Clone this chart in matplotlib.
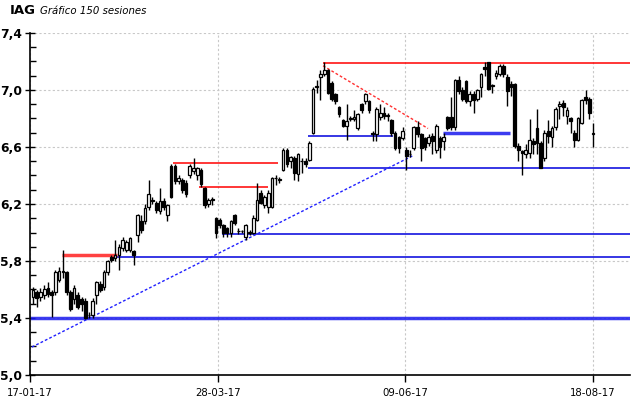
import matplotlib
matplotlib.use("Agg")
import matplotlib.pyplot as plt
from matplotlib.ticker import FixedLocator, MultipleLocator, FuncFormatter
import numpy as np

# ---- data (OHLC) ----
opens = [5.55,5.58,5.55,5.56,5.61,5.58,5.58,5.67,5.73,5.72,
         5.58,5.53,5.56,5.53,5.52,5.42,5.42,5.56,5.64,5.62,
         5.72,5.83,5.82,5.84,5.89,5.88,5.88,5.87,5.98,6.08,
         6.08,6.18,6.23,6.21,6.15,6.22,6.12,6.47,6.47,6.36,
         6.37,6.35,6.40,6.43,6.40,6.44,6.31,6.20,6.23,6.10,
         6.09,6.05,6.03,6.00,6.12,6.01,6.01,5.97,6.00,6.00,
         6.09,6.28,6.19,6.18,6.18,6.38,6.37,6.44,6.58,6.50,
         6.52,6.41,6.50,6.50,6.51,6.70,7.02,7.09,7.11,7.14,
         7.05,6.97,6.88,6.79,6.75,6.80,6.80,6.73,6.90,6.92,
         6.92,6.70,6.69,6.81,6.84,6.82,6.79,6.70,6.67,6.66,
         6.58,6.55,6.59,6.74,6.69,6.66,6.63,6.68,6.58,6.66,
         6.64,6.81,6.81,6.74,7.07,7.00,7.06,6.92,6.97,6.94,
         7.02,7.16,7.20,7.03,7.10,7.11,7.17,7.09,7.04,7.04,
         6.61,6.57,6.55,6.56,6.64,6.73,6.63,6.52,6.71,6.67,
         6.74,6.89,6.91,6.82,6.80,6.70,6.65,6.77,6.95,6.94,
         6.70]
highs = [5.62,5.60,5.61,5.63,5.65,5.60,5.74,5.76,5.88,5.73,
         5.60,5.63,5.58,5.55,5.54,5.44,5.54,5.66,5.66,5.74,
         5.81,5.84,5.95,5.92,5.97,5.95,5.97,5.88,6.13,6.12,
         6.20,6.37,6.25,6.22,6.31,6.24,6.20,6.48,6.48,6.40,
         6.38,6.37,6.48,6.52,6.46,6.45,6.32,6.24,6.25,6.11,
         6.10,6.06,6.04,6.09,6.13,6.03,6.02,6.06,6.02,6.12,
         6.35,6.30,6.26,6.30,6.39,6.40,6.39,6.59,6.59,6.54,
         6.54,6.56,6.52,6.52,6.64,7.02,7.07,7.14,7.20,7.15,
         7.06,6.98,6.89,6.80,6.90,6.82,6.86,6.84,6.91,6.98,
         6.93,6.71,6.88,6.90,6.88,6.84,6.80,6.71,6.68,6.74,
         6.60,6.58,6.75,6.78,6.70,6.67,6.69,6.70,6.76,6.68,
         6.70,6.82,6.95,7.08,7.10,7.02,7.07,6.99,6.99,7.01,
         7.12,7.20,7.20,7.04,7.14,7.18,7.18,7.11,7.06,7.05,
         6.63,6.58,6.62,6.80,6.66,6.87,6.64,6.72,6.79,6.75,
         6.88,6.92,6.93,6.88,6.81,6.72,6.81,6.94,7.00,6.95,
         6.77]
lows = [5.50,5.48,5.52,5.53,5.55,5.41,5.56,5.65,5.68,5.56,
        5.45,5.50,5.46,5.45,5.39,5.40,5.40,5.50,5.58,5.60,
        5.70,5.79,5.80,5.74,5.87,5.86,5.86,5.77,5.93,6.00,
        6.06,6.16,6.20,6.14,6.13,6.16,6.08,6.24,6.34,6.34,
        6.28,6.25,6.38,6.41,6.37,6.32,6.17,6.18,6.19,5.96,
        6.03,5.97,5.97,5.97,6.05,5.99,6.00,5.95,5.98,5.99,
        6.08,6.20,6.17,6.14,6.17,6.33,6.35,6.43,6.46,6.45,
        6.37,6.36,6.42,6.46,6.50,6.69,6.98,6.93,7.10,6.97,
        6.92,6.90,6.81,6.74,6.65,6.78,6.78,6.72,6.84,6.90,
        6.84,6.64,6.64,6.79,6.80,6.78,6.68,6.58,6.56,6.65,
        6.44,6.53,6.58,6.67,6.50,6.58,6.61,6.55,6.56,6.52,
        6.58,6.72,6.72,6.72,6.97,6.92,6.91,6.89,6.84,6.92,
        6.95,7.10,7.00,6.98,7.08,7.10,7.09,6.89,6.96,6.59,
        6.50,6.40,6.52,6.52,6.55,6.55,6.45,6.50,6.63,6.60,
        6.72,6.80,6.82,6.76,6.70,6.60,6.64,6.76,6.90,6.80,
        6.60]
closes = [5.60,5.54,5.58,5.60,5.57,5.56,5.72,5.73,5.72,5.58,
          5.46,5.61,5.48,5.50,5.40,5.42,5.52,5.65,5.60,5.72,
          5.80,5.81,5.84,5.90,5.95,5.93,5.96,5.84,6.12,6.02,
          6.17,6.27,6.22,6.16,6.22,6.18,6.19,6.25,6.36,6.38,
          6.30,6.27,6.47,6.45,6.45,6.34,6.19,6.23,6.23,6.00,
          6.05,6.00,6.00,6.08,6.07,6.01,6.01,6.05,6.00,6.10,
          6.23,6.21,6.25,6.28,6.38,6.38,6.37,6.58,6.48,6.53,
          6.42,6.55,6.50,6.48,6.63,7.01,7.03,7.11,7.14,6.98,
          6.94,6.92,6.83,6.75,6.78,6.80,6.81,6.83,6.86,6.97,
          6.86,6.69,6.87,6.84,6.82,6.82,6.70,6.59,6.59,6.71,
          6.54,6.55,6.74,6.69,6.59,6.60,6.67,6.64,6.75,6.60,
          6.67,6.73,6.74,7.07,6.99,6.94,6.92,6.97,6.93,7.00,
          7.11,7.15,7.01,7.03,7.12,7.17,7.11,6.99,7.02,6.61,
          6.58,6.56,6.58,6.65,6.62,6.63,6.45,6.70,6.68,6.73,
          6.87,6.90,6.88,6.86,6.78,6.65,6.80,6.93,6.93,6.84,
          6.69]

tick_labels = ["17-01-17", "28-03-17", "09-06-17", "18-08-17"]
tick_index = [-0.8, 49.6, 99.6, 150.0]
y_ticks = [5.0, 5.4, 5.8, 6.2, 6.6, 7.0, 7.4]

# horizontal support / resistance levels: (level, start index, end index)
red_levels = [7.19, 6.49, 6.32]
red_starts = [77.7, 37.5, 44.5]
red_ends = [160.0, 65.6, 63.0]
blue_levels = [6.68, 6.45, 5.99, 5.83]
blue_starts = [73.7, 73.7, 50.6, 22.5]
blue_ends = [96.4, 160.0, 160.0, 160.0]
thick_red_level, thick_red_span = 5.84, (7.8, 22.5)
thick_blue_levels = [6.70, 5.40]
thick_blue_spans = [(109.8, 127.8), (-0.8, 160.0)]
# trend lines: (x0, y0, x1, y1)
red_trend = (77.7, 7.17, 105.8, 6.73)
blue_trend = (-0.3, 5.196, 101.8, 6.54)

# ---- figure ----
fig = plt.figure(figsize=(6.4, 3.98), dpi=100)
ax = fig.add_axes([30/640, 1-375/398, 600/640, 342/398])

o = np.array(opens); h = np.array(highs); l = np.array(lows); c = np.array(closes)
x = np.arange(len(o))
ax.vlines(x, l, h, color="black", lw=1.0, zorder=3)
up = c >= o
bottoms = np.minimum(o, c)
heights = np.maximum(np.abs(c - o), 0.004)
ax.bar(x[up], heights[up], bottom=bottoms[up], width=0.72, color="white",
       edgecolor="black", linewidth=0.9, zorder=4)
ax.bar(x[~up], heights[~up], bottom=bottoms[~up], width=0.72, color="black",
       edgecolor="black", linewidth=0.9, zorder=4)

for lev, s, e in zip(red_levels, red_starts, red_ends):
    ax.hlines(lev, s, e, color="#ff0000", lw=1.1, zorder=2)
for lev, s, e in zip(blue_levels, blue_starts, blue_ends):
    ax.hlines(lev, s, e, color="#0000dd", lw=1.1, zorder=2)
ax.hlines(thick_red_level, *thick_red_span, color="#ff2020", lw=2.5, alpha=0.85, zorder=2)
for lev, sp in zip(thick_blue_levels, thick_blue_spans):
    ax.hlines(lev, *sp, color="#1a1aee", lw=2.5, alpha=0.85, zorder=2)
ax.plot([red_trend[0], red_trend[2]], [red_trend[1], red_trend[3]],
        color="#ff3030", lw=1.0, ls=(0, (2, 1.5)), zorder=2)
ax.plot([blue_trend[0], blue_trend[2]], [blue_trend[1], blue_trend[3]],
        color="#2020ff", lw=1.0, ls=(0, (2, 1.5)), zorder=2)

ax.set_xlim(-0.8, 159.9)
ax.set_ylim(5.0, 7.4)
ax.yaxis.set_major_locator(FixedLocator(y_ticks))
ax.yaxis.set_minor_locator(MultipleLocator(0.1))
ax.yaxis.set_major_formatter(FuncFormatter(lambda v, p: f"{v:.1f}".replace(".", ",")))
ax.set_xticks(tick_index)
ax.set_xticklabels(tick_labels, fontsize=7.3)
for t in ax.get_yticklabels():
    t.set_fontweight("bold")
    t.set_fontsize(8.8)
ax.tick_params(axis="y", which="major", direction="inout", length=7, width=1, pad=2)
ax.tick_params(axis="y", which="minor", direction="in", length=4, width=1)
ax.tick_params(axis="x", which="major", direction="out", length=5, width=1, pad=4)
ax.grid(True, which="major", color="#c8c8c8", ls=(0, (2, 2)), lw=0.8)
ax.set_axisbelow(True)
for s in ["top", "right"]:
    ax.spines[s].set_visible(False)
for s in ["left", "bottom"]:
    ax.spines[s].set_linewidth(1.2)

fig.text(10/640, 1-11/398, "IAG", fontsize=9.5, fontweight="bold", va="center", ha="left")
fig.text(40/640, 1-11/398, "Gráfico 150 sesiones", fontsize=7.3, style="italic", va="center", ha="left")

fig.savefig("out.png", dpi=100)
